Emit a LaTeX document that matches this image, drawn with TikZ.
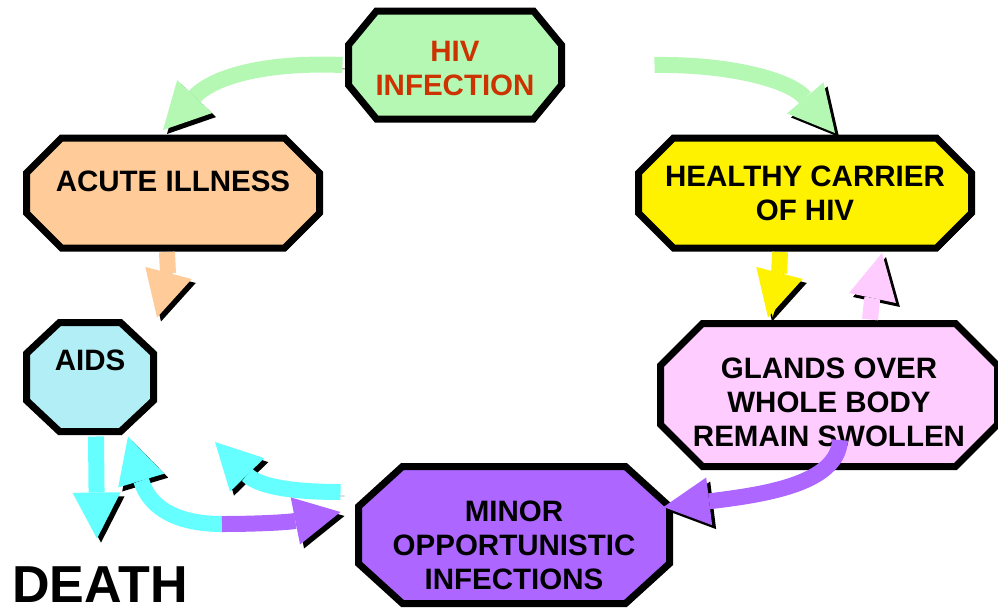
\documentclass[tikz,border=0pt]{standalone}
\usepackage{fontspec}
\setmainfont{Liberation Sans}
\usetikzlibrary{arrows.meta,backgrounds}
\definecolor{hivgreen}{RGB}{180,248,180}
\definecolor{hivred}{RGB}{204,51,0}
\definecolor{peach}{RGB}{255,204,153}
\definecolor{aidsblue}{RGB}{178,238,245}
\definecolor{glandpink}{RGB}{255,204,255}
\definecolor{minorpurple}{RGB}{173,102,255}
\definecolor{arrowcyan}{RGB}{102,255,255}
\begin{document}
\begin{tikzpicture}[x=1pt,y=-1pt]
% octagon boxes and block arrows, both with a black shadow
\tikzstyle{boxtext} = [rectangle, inner sep=0pt, outer sep=0pt, align=center, font=\bfseries\fontsize{29.5}{34}\selectfont]
\tikzstyle{octagon} = [draw=black, line width=7pt, preaction={fill=black, draw=black, transform canvas={shift={(2pt,-2pt)}}}]
\tikzstyle{blockarrow} = [line width=16pt, -{Triangle[width=48pt,length=46pt,line width=0pt]}, preaction={draw=black, transform canvas={shift={(4pt,-4pt)}}}]
\useasboundingbox (0,0) rectangle (998,613);
\node (hiv) [boxtext, text=hivred, minimum width=213pt, minimum height=108pt] at (455,65) {\rule{0pt}{27pt}HIV\\INFECTION};
\node (acute) [boxtext, minimum width=293pt, minimum height=110pt, text depth=24pt] at (173,193) {ACUTE ILLNESS};
\node (healthy) [boxtext, minimum width=333pt, minimum height=110pt] at (805,193) {HEALTHY CARRIER\\OF HIV};
\node (aids) [boxtext, minimum width=127pt, minimum height=109pt, text depth=34pt] at (90,377) {AIDS};
\node (glands) [boxtext, minimum width=337pt, minimum height=143pt] at (829,395) {\rule{0pt}{35pt}GLANDS OVER\\WHOLE BODY\\REMAIN SWOLLEN};
\node (minor) [boxtext, minimum width=311pt, minimum height=137pt] at (514,535) {\rule{0pt}{41pt}MINOR\\OPPORTUNISTIC\\INFECTIONS};
\node (death) [font=\bfseries\fontsize{52}{60}\selectfont] at (100,585) {DEATH};
\begin{scope}[on background layer]
\foreach \n/\cx/\cy/\col in {hiv/28/34/hivgreen, acute/35/35/peach, healthy/35/35/yellow, aids/33/31/aidsblue, glands/42/42/glandpink, minor/44/40/minorpurple}
  \draw [octagon, fill=\col] ([xshift=\cx pt]\n.north west) -- ([xshift=-\cx pt]\n.north east) -- ([yshift=-\cy pt]\n.north east) -- ([yshift=\cy pt]\n.south east) -- ([xshift=-\cx pt]\n.south east) -- ([xshift=\cx pt]\n.south west) -- ([yshift=\cy pt]\n.south west) -- ([yshift=-\cy pt]\n.north west) -- cycle;
\end{scope}
\coordinate (rstart) at ([xshift=93pt]hiv.east);
\coordinate (mid) at (222,524);
\coordinate (cyantip) at (215,442);
\draw [blockarrow, draw=hivgreen] ([xshift=-6pt]hiv.west) .. controls (270,62) and (215,75) .. ([xshift=-10pt,yshift=8pt]acute.north);
\draw [blockarrow, draw=hivgreen] (rstart) .. controls (730,64) and (790,80) .. ([xshift=30pt,yshift=5pt]healthy.north);
\draw [blockarrow, draw=peach] ([xshift=-6pt,yshift=-4pt]acute.south) .. controls (168,275) .. ([xshift=67pt,yshift=5pt]aids.north);
\draw [blockarrow, draw=yellow] ([xshift=-25pt,yshift=-4pt]healthy.south) .. controls (779,275) .. ([xshift=-61pt,yshift=6pt]glands.north);
\draw [blockarrow, draw=glandpink] ([xshift=41pt,yshift=4pt]glands.north) .. controls (872,300) .. ([xshift=77pt,yshift=-5pt]healthy.south);
\draw [blockarrow, draw=minorpurple] ([xshift=11pt,yshift=-45pt]glands.center) .. controls (838,485) and (760,495) .. ([xshift=-6pt,yshift=28pt]minor.east);
\draw [blockarrow, draw=arrowcyan] ([xshift=-18pt,yshift=43pt]minor.west) .. controls (300,492) and (260,488) .. (cyantip);
\draw [blockarrow, draw=arrowcyan] (mid) .. controls (180,524) and (150,510) .. ([xshift=38pt,yshift=-5pt]aids.south);
\draw [blockarrow, draw=minorpurple] (mid) .. controls (260,524) and (290,522) .. ([xshift=-18pt,yshift=23pt]minor.west);
\draw [blockarrow, draw=arrowcyan] ([xshift=6pt,yshift=-5pt]aids.south) -- ([xshift=-3pt,yshift=25pt]death.north);
\end{tikzpicture}
\end{document}
